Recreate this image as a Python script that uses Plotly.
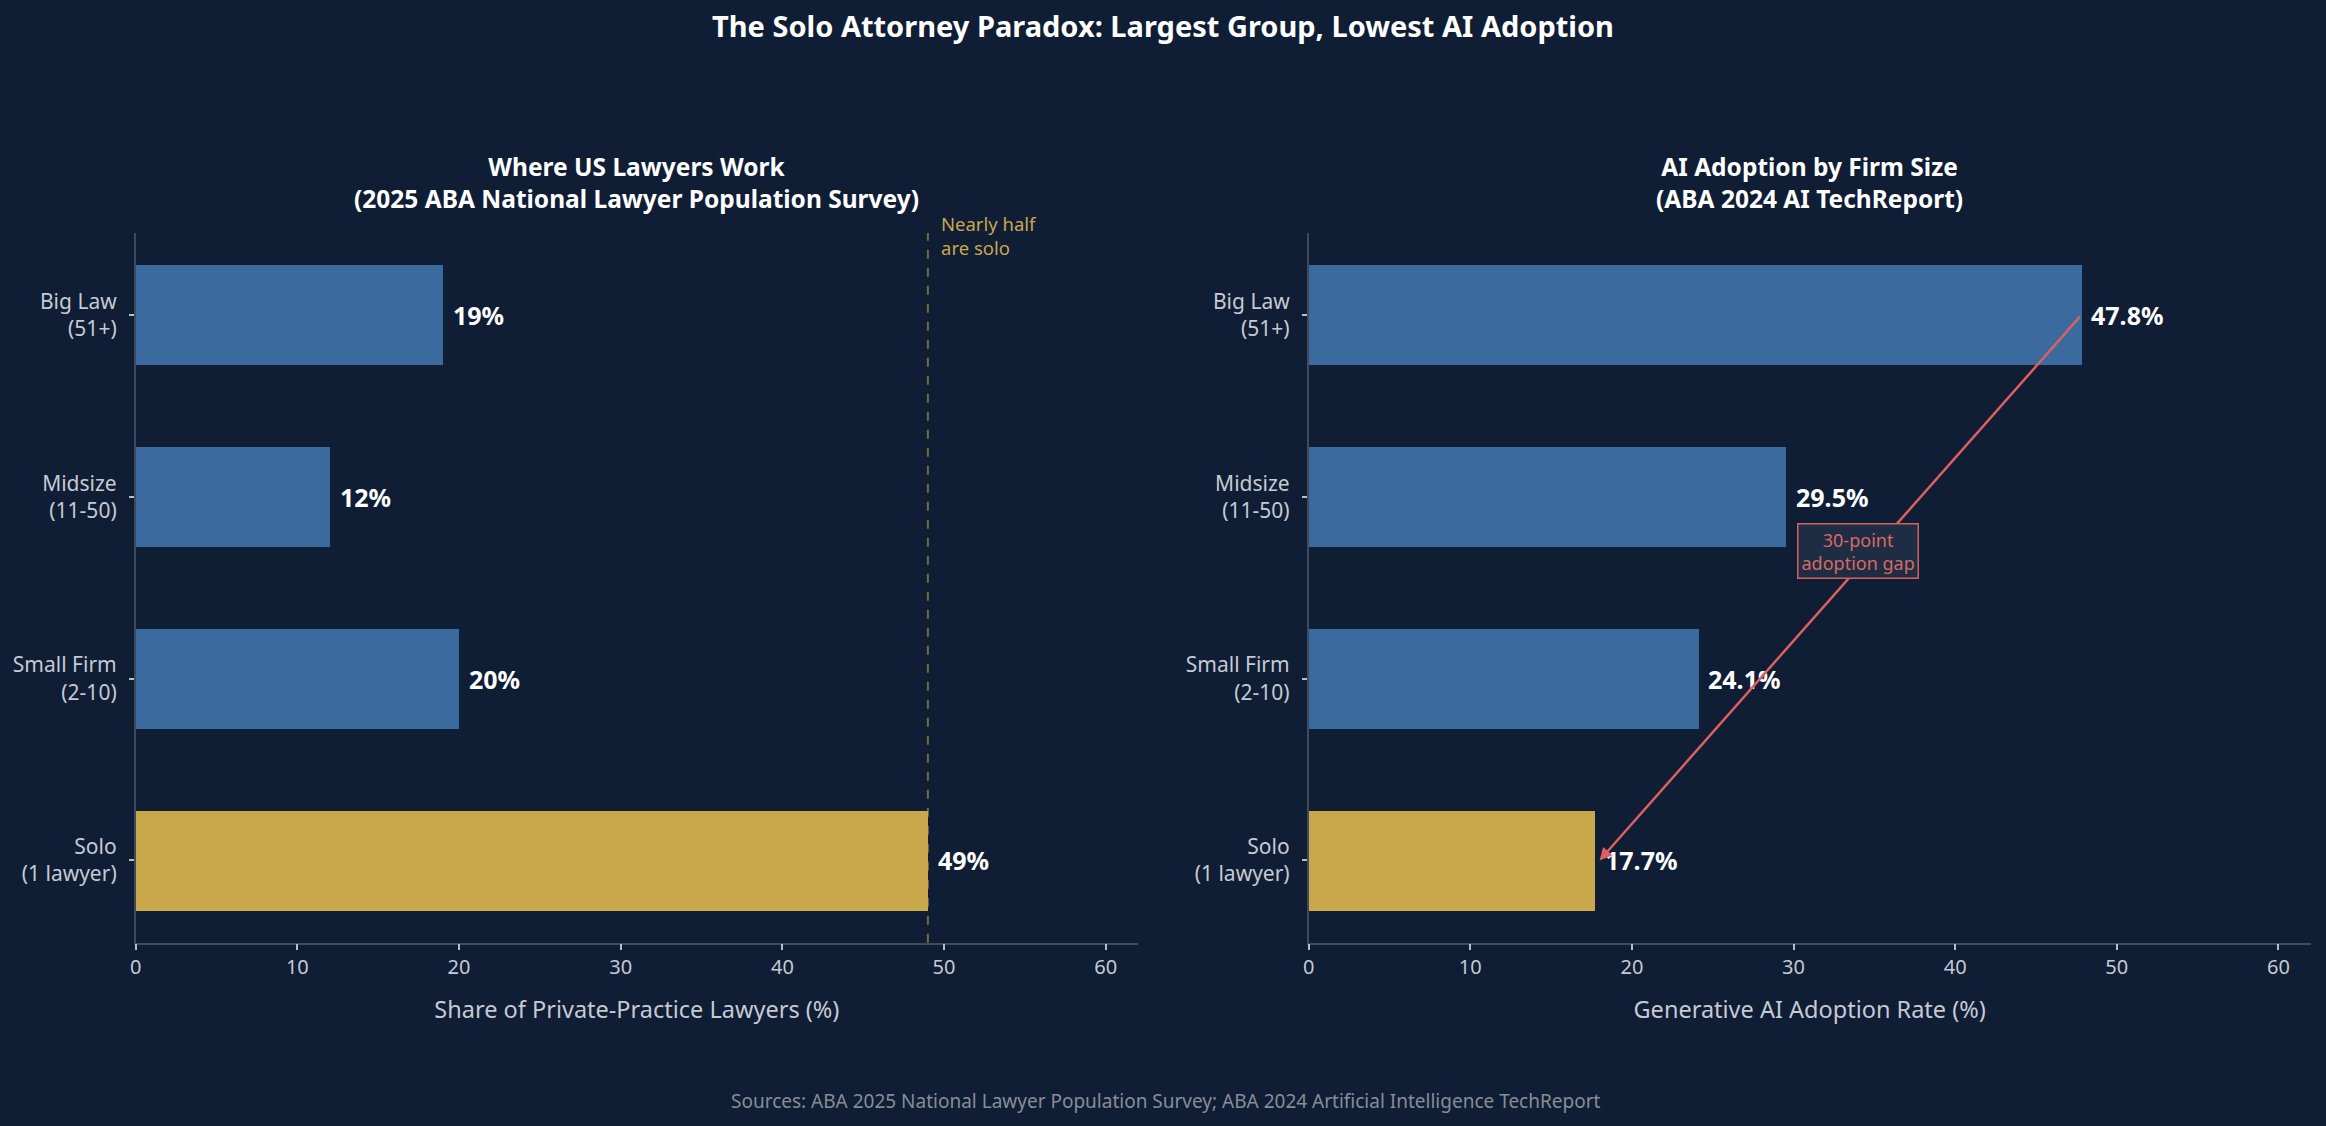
import plotly.graph_objects as go

# ---- data ----
categories = ["Solo<br>(1 lawyer)", "Small Firm<br>(2-10)", "Midsize<br>(11-50)", "Big Law<br>(51+)"]
share_pct = [49, 20, 12, 19]
ai_adoption_pct = [17.7, 24.1, 29.5, 47.8]
bar_colors = ["#c9a84c", "#3a6a9e", "#3a6a9e", "#3a6a9e"]
x_ticks = [0, 10, 20, 30, 40, 50, 60]

BG = "#0f1d35"
TICK_COLOR = "#c5cad3"
SPINE = "#414a5a"
FONT = "Noto Sans"
H = 1126

ypos = list(range(len(categories)))

fig = go.Figure()
fig.add_trace(go.Bar(x=share_pct, y=ypos, orientation="h", width=0.55,
                     marker=dict(color=bar_colors, line=dict(width=0)),
                     xaxis="x", yaxis="y", showlegend=False, hoverinfo="skip"))
fig.add_trace(go.Bar(x=ai_adoption_pct, y=ypos, orientation="h", width=0.55,
                     marker=dict(color=bar_colors, line=dict(width=0)),
                     xaxis="x2", yaxis="y2", showlegend=False, hoverinfo="skip"))

dom_y = [1 - 942.7 / H, 1 - 232.9 / H]
dom_x1 = [130.0 / 2326, 1135.0 / 2326]
dom_x2 = [1306.0 / 2326, 2310.7 / 2326]
xcommon = dict(range=[0, 62], tickvals=x_ticks, showgrid=False, zeroline=False,
               showline=True, linecolor=SPINE, linewidth=1.5, ticks="outside",
               ticklen=6, tickcolor="#b9bec8", tickwidth=1.5,
               tickfont=dict(family=FONT, size=20, color=TICK_COLOR))
ycommon = dict(range=[-0.4525, 3.4525], tickvals=ypos, ticktext=categories,
               showgrid=False, zeroline=False, showline=True, linecolor=SPINE,
               linewidth=1.5, ticks="outside", ticklen=5, tickcolor="#b9bec8", tickwidth=1.5,
               ticklabelstandoff=8,
               tickfont=dict(family=FONT, size=21, color=TICK_COLOR))

fig.update_layout(
    width=2326, height=1126, paper_bgcolor=BG, plot_bgcolor=BG,
    margin=dict(l=0, r=0, t=0, b=0), bargap=0,
    xaxis=dict(domain=dom_x1, anchor="y",
               title=dict(text="Share of Private-Practice Lawyers (%)", standoff=22,
                          font=dict(family=FONT, size=23.5, color=TICK_COLOR)), **xcommon),
    yaxis=dict(domain=dom_y, anchor="x", **ycommon),
    xaxis2=dict(domain=dom_x2, anchor="y2",
                title=dict(text="Generative AI Adoption Rate (%)", standoff=22,
                           font=dict(family=FONT, size=23.5, color=TICK_COLOR)), **xcommon),
    yaxis2=dict(domain=dom_y, anchor="x2", **ycommon),
    title=dict(text="<b>The Solo Attorney Paradox: Largest Group, Lowest AI Adoption</b>",
               x=0.5, xanchor="center", y=1 - 27 / H, yanchor="middle",
               font=dict(family=FONT, size=29, color="white")),
)

annotations = []
# subplot titles
titles = [(sum(dom_x1) / 2, "Where US Lawyers Work", "(2025 ABA National Lawyer Population Survey)"),
          (sum(dom_x2) / 2, "AI Adoption by Firm Size", "(ABA 2024 AI TechReport)")]
for xc, l1, l2 in titles:
    annotations.append(dict(text=f"<b>{l1}</b><br><b>{l2}</b>", x=xc, y=1 - 183 / H,
                            xref="paper", yref="paper", xanchor="center", yanchor="middle",
                            showarrow=False, font=dict(family=FONT, size=24.5, color="white")))

# value labels
for i, v in enumerate(share_pct):
    annotations.append(dict(text=f"<b>{v}%</b>", x=v + 0.5, y=ypos[i], xref="x", yref="y",
                            xanchor="left", yanchor="middle", showarrow=False,
                            font=dict(family=FONT, size=25, color="white")))
for i, v in enumerate(ai_adoption_pct):
    annotations.append(dict(text=f"<b>{v:.1f}%</b>", x=v + 0.5, y=ypos[i], xref="x2", yref="y2",
                            xanchor="left", yanchor="middle", showarrow=False,
                            font=dict(family=FONT, size=25, color="white")))

# nearly half note
annotations.append(dict(text="Nearly half<br>are solo", x=share_pct[0] + 0.7, y=1 - 235 / H,
                        xref="x", yref="paper", xanchor="left", yanchor="middle", align="left",
                        showarrow=False, font=dict(family=FONT, size=18.5, color="#c9a84c")))

# gap arrow
annotations.append(dict(text="", x=ai_adoption_pct[0] + 0.3, y=ypos[0], xref="x2", yref="y2",
                        ax=ai_adoption_pct[3], ay=ypos[3], axref="x2", ayref="y2",
                        showarrow=True, arrowhead=2, arrowsize=1, arrowwidth=2.5,
                        arrowcolor="#dc6060", standoff=0, startstandoff=0))
gap = round(ai_adoption_pct[3] - ai_adoption_pct[0])
annotations.append(dict(text=f"{gap}-point<br>adoption gap", x=34, y=1.7, xref="x2", yref="y2",
                        xanchor="center", yanchor="middle", showarrow=False,
                        bgcolor="#1e2c44", bordercolor="#d2605e", borderwidth=1.5, borderpad=3,
                        font=dict(family=FONT, size=18, color="#d86a66")))

# footer
annotations.append(dict(text="Sources: ABA 2025 National Lawyer Population Survey; ABA 2024 Artificial Intelligence TechReport",
                        x=0.5, y=1 - 1101 / H, xref="paper", yref="paper", xanchor="center",
                        yanchor="middle", showarrow=False,
                        font=dict(family=FONT, size=19, color="#878d98")))

fig.update_layout(annotations=annotations)

fig.add_shape(type="line", x0=share_pct[0], x1=share_pct[0], y0=0, y1=1, xref="x", yref="y domain",
              line=dict(color="rgba(201,168,76,0.55)", width=2, dash="dash"))

fig.write_html("out.html")
